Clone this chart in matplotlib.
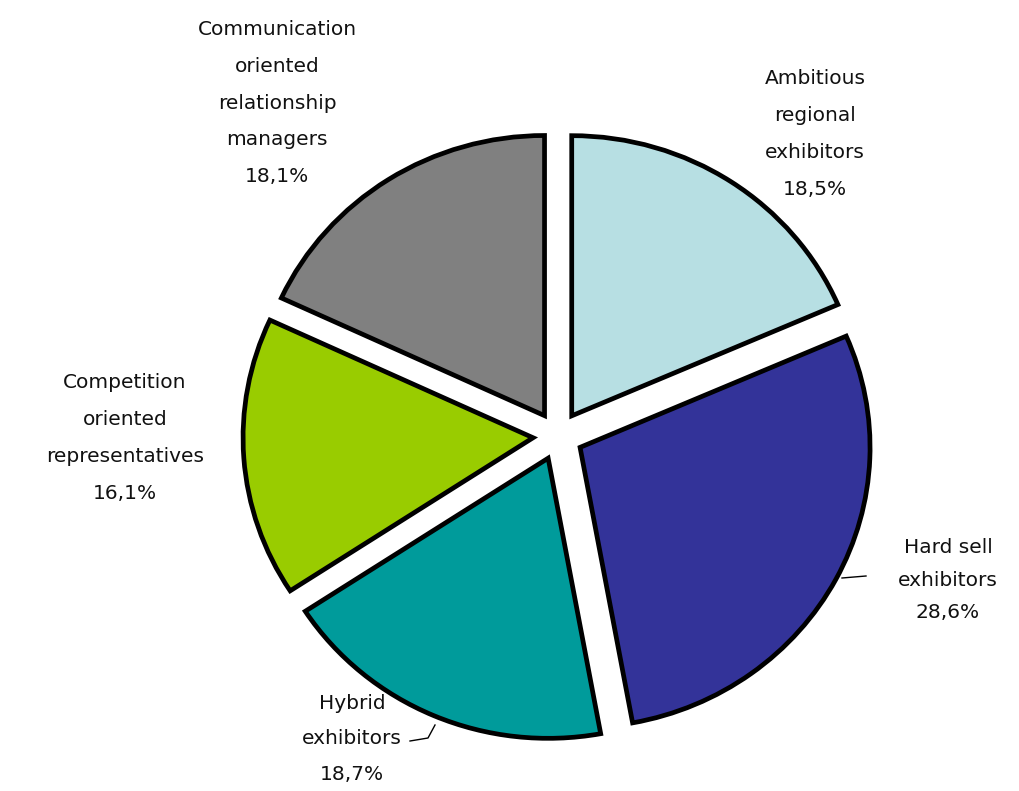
import matplotlib
matplotlib.use("Agg")
import matplotlib.pyplot as plt

# segment shares (%) going clockwise from 12 o'clock
segments = ["Ambitious\nregional\nexhibitors",
            "Hard sell\nexhibitors",
            "Hybrid\nexhibitors",
            "Competition\noriented\nrepresentatives",
            "Communication\noriented\nrelationship\nmanagers"]
shares = [18.5, 28.6, 18.7, 16.1, 18.1]
colors = ["#b7dfe3", "#333399", "#009b9b", "#99cc00", "#808080"]

W, H = 1019, 791
SY = 0.966  # pie is a touch wider than tall


def px(x, y):
    # pixel coords (origin top-left) -> axis data coords
    return x, (H - y) / SY


fig = plt.figure(figsize=(W / 100, H / 100), dpi=100)
ax = fig.add_axes([0, 0, 1, 1])

# explode is in data units here (radius is 290, not 1)
ax.pie(shares, colors=colors, startangle=90, counterclock=False,
       explode=[25] * len(shares), radius=290, center=px(558, 436),
       wedgeprops=dict(edgecolor="black", linewidth=3.4, joinstyle="miter"))
ax.set_aspect("auto")
ax.set_xlim(0, W)
ax.set_ylim(0, H / SY)
ax.axis("off")

label_pos = [(815, 134), (948, 580), (352, 739), (125, 438), (277, 103)]
label_gap = [2.18, 1.9, 2.1, 2.18, 2.18]
for name, val, (lx, ly), gap in zip(segments, shares, label_pos, label_gap):
    txt = name + "\n" + f"{val:.1f}".replace(".", ",") + "%"
    ax.text(*px(lx, ly), txt, ha="center", va="center", fontsize=14.5,
            linespacing=gap, color="#111111", family="DejaVu Sans")

# short leader lines
ax.plot(*zip(px(866, 576), px(842, 578)), color="black", lw=1)
ax.plot(*zip(px(410, 741), px(428, 738), px(435, 725)), color="black", lw=1)

fig.savefig("out.png", dpi=100, facecolor="white")
